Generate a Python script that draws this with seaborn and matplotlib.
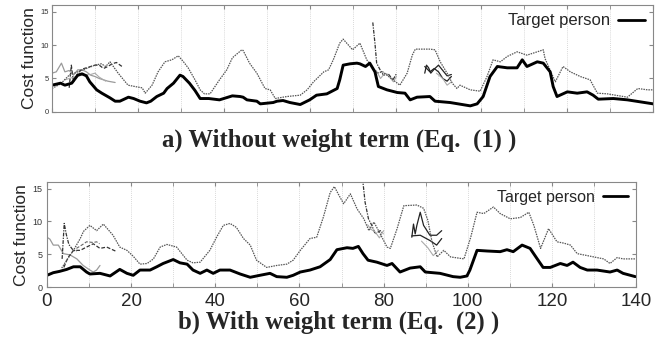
import matplotlib
matplotlib.use("Agg")
import matplotlib.pyplot as plt
import seaborn as sns
import pandas as pd

# ---------------- data: panel a (without weight term) ----------------
a_target_t = [0, 2, 3, 4.6, 6, 7, 8, 8.8, 10.4, 11.6, 13.5, 14.7, 15.8, 17.8, 19, 20.5, 22, 23, 24.4, 26, 26.8,
              28.3, 29.8, 30.5, 32, 33.3, 34.5, 36.5, 39, 42, 43.8, 44.5, 45.4, 47.7, 48.5, 51.5, 52.4, 53.8, 55.4,
              57.8, 60, 61.6, 64, 65.5, 66.4, 67, 67.8, 69.4, 71, 71.7, 73, 74, 75.2, 76, 78, 80.4, 82.2, 83.4, 85,
              88, 89.2, 92.7, 97.4, 99, 100.4, 102, 103.7, 106, 108.3, 109.5, 110.6, 113, 114.4, 116, 116.7, 117.6,
              120, 122.3, 124.6, 126, 127.2, 130.7, 134, 137, 140]
a_target_v = [4.0, 4.3, 4.0, 4.3, 5.5, 5.7, 5.4, 4.5, 3.3, 2.8, 2.1, 1.6, 1.6, 2.2, 2.0, 1.6, 1.35, 1.6, 2.3, 2.8, 3.5,
              4.3, 5.5, 5.3, 4.3, 3.2, 2.0, 2.0, 1.8, 2.4, 2.3, 2.2, 1.8, 1.6, 1.2, 1.4, 1.6, 1.7, 1.4,
              1.1, 1.8, 2.5, 2.7, 3.2, 3.5, 4.8, 7.0, 7.2, 7.3, 7.2, 6.8, 7.3, 6.0, 3.8, 3.3, 2.9, 2.8, 1.8, 2.2,
              2.3, 1.6, 1.4, 0.9, 1.2, 2.3, 5.3, 6.8, 6.6, 6.6, 7.8, 6.8, 7.5, 7.3, 6.0, 3.8, 2.3,
              3.0, 2.8, 3.0, 2.5, 1.9, 2.0, 1.8, 1.5, 1.2]

a_other_t = [0, 2, 4, 6, 8, 10, 11.5, 12.5, 13.5, 15.4, 17.7, 19.3, 21, 21.7, 23.3, 24.7, 26.3, 27.9, 29.4, 30.5,
             31.7, 33.3, 34.5, 35.5, 36.8, 39, 40.7, 42, 44.2, 44.5, 46, 47.7, 49.6, 50.8, 52, 54.7, 57.8, 59.4,
             60.9, 63.3, 64.4, 65.5, 67, 67.8, 70, 71.7, 73.3, 75.6, 77, 79.4, 81, 82.7, 83.9, 84.6, 88, 89.2,
             90.4, 92, 93.2, 94.3, 95, 97.4, 99.7, 101.3, 102.7, 104.4, 106, 108.3, 110.6, 113, 114.4, 114.8,
             117.2, 119, 120.7, 123, 125.3, 127, 129.3, 134, 136.4, 138.7, 140]
a_other_v = [3.5, 4.2, 5.5, 6.0, 6.5, 7.0, 7.2, 6.8, 7.5, 5.8, 4.0, 3.8, 3.6, 2.8, 4.0, 6.0, 7.5, 7.8, 8.4, 7.6,
             6.6, 4.8, 3.3, 2.7, 2.7, 4.8, 6.3, 8.1, 9.3, 9.2, 7.3, 5.8, 3.5, 3.3, 2.0, 2.3, 2.5, 3.3,
             4.5, 6.0, 6.3, 7.8, 10.3, 10.9, 9.3, 10.3, 7.8, 5.8, 6.0, 4.8, 4.0, 5.8, 8.5, 9.4, 9.4, 9.3,
             7.5, 5.8, 4.3, 3.5, 4.0, 3.3, 3.1, 5.3, 7.8, 7.5, 8.3, 9.0, 8.5, 9.0, 9.3, 8.0,
             4.5, 6.8, 6.0, 5.3, 4.8, 2.8, 2.7, 2.2, 3.5, 3.3, 3.3]

a_s1_t = [0, 1, 2.2, 3, 4, 5, 6, 7, 8, 9, 10, 11, 12, 13, 14.7]
a_s1_v = [5.8, 6.0, 7.3, 6.0, 6.2, 5.5, 6.3, 6.3, 6.0, 5.5, 5.3, 5.0, 4.8, 4.6, 4.4]
a_s2_t = [4, 4.5, 5, 6, 7, 8, 9, 10, 11, 12, 13, 14, 15, 16.3]
a_s2_v = [3.6, 7.0, 4.5, 5.8, 6.4, 6.6, 6.8, 7.0, 7.0, 6.5, 6.8, 7.2, 7.4, 6.8]
a_s3_t = [3, 5, 7, 9, 10, 11, 12.5]
a_s3_v = [4.8, 5.2, 5.5, 5.6, 5.8, 5.2, 4.6]
a_s4_t = [74.7, 75.2, 75.6, 76.4, 77.2, 78.3, 79.4, 80.2]
a_s4_v = [13.4, 10.3, 7.3, 6.3, 5.5, 5.7, 4.8, 5.7]
a_s5_t = [75.5, 76.5, 77.5, 78.5, 79.5, 80.2]
a_s5_v = [6.2, 5.0, 5.8, 5.3, 4.5, 5.3]
a_s6_t = [86.8, 87.2, 87.7, 88.2, 89, 90, 91, 92, 93]
a_s6_v = [5.8, 7.0, 6.6, 5.8, 6.4, 7.0, 6.2, 5.4, 5.6]
a_s7_t = [86.8, 88, 89, 90, 91, 92, 93]
a_s7_v = [6.8, 6.0, 6.5, 6.0, 5.0, 4.6, 5.3]
a_s8_t = [89.5, 91, 92, 93]
a_s8_v = [5.8, 5.0, 4.0, 4.5]

# ---------------- data: panel b (with weight term) ----------------
b_target_t = [0, 1.5, 3, 4.7, 6.3, 7.9, 9.4, 10.2, 12.6, 15, 17.3, 19, 20.5, 22.1, 24.5, 26.1, 27.6, 30, 31.6, 33.3,
              34.7, 36.4, 38, 39.5, 41.1, 43.5, 45.9, 48.3, 50.6, 53, 54.6, 57, 58.5, 60.2, 62.5, 64.9, 67.3,
              68.9, 71.3, 72.7, 74, 75.1, 76.3, 78.4, 80.8, 82, 83.9, 86.3, 88.7, 89.9, 93.4, 96.5, 98.2, 99.8,
              100.5, 102.2, 104.6, 107.7, 109.3, 110.8, 112.9, 114.8, 116.5, 117.9, 119.6, 122, 123.6, 125,
              126.7, 128.4, 130.7, 133.8, 135.5, 136.9, 139.8]
b_target_v = [1.8, 2.2, 2.4, 2.7, 3.1, 3.1, 2.3, 2.0, 2.1, 1.7, 2.7, 2.1, 1.8, 2.6, 2.6, 3.1, 3.6, 4.2, 3.7, 3.5,
              2.6, 2.1, 2.6, 2.1, 2.6, 2.6, 2.0, 1.5, 1.8, 2.1, 1.6, 1.5, 1.8, 2.3, 2.6, 3.1, 4.2,
              5.7, 6.0, 5.9, 6.2, 5.1, 4.1, 3.8, 3.3, 3.6, 2.3, 2.9, 3.1, 2.3, 2.1, 1.6, 1.5, 1.7,
              2.6, 5.6, 5.5, 5.4, 5.7, 5.4, 6.4, 5.9, 4.3, 3.0, 3.0, 3.6, 3.3, 3.8,
              3.0, 2.6, 2.6, 2.3, 2.6, 2.1, 1.6]

b_other_t = [3.5, 4.7, 6.3, 7.9, 8.7, 10.2, 11.8, 13.4, 15.7, 17.3, 19, 20.5, 22.1, 23.8, 25.3, 26.9, 28.5, 30.8,
             33.3, 34.7, 36.4, 38.7, 40.3, 41.9, 43.5, 45, 46.7, 48.3, 49.8, 52.2, 54.6, 57, 58.5, 60.2, 62.5,
             64.1, 65.7, 67.3, 68.3, 69.2, 70.5, 72.1, 73.7, 75.3, 76.5, 77.7, 79.2, 80.8, 81.6, 83.2, 84.8,
             87.9, 89.5, 90.5, 91.5, 92.7, 94.3, 95.9, 99.1, 100.7, 102.2, 103.8, 106.1, 107.7, 110.1, 112.5,
             114.5, 115.7, 117.3, 119.2, 121.2, 122.8, 124.4, 126, 128.4, 130.7, 132.3, 133.8, 135.5, 136.9, 139.8]
b_other_v = [2.9, 4.1, 5.6, 7.4, 8.5, 9.4, 8.6, 9.6, 7.9, 6.1, 5.6, 4.7, 3.5, 3.6, 4.3, 6.1, 6.5, 6.1,
             4.1, 3.7, 3.8, 5.6, 7.6, 9.4, 9.7, 9.1, 7.4, 6.4, 4.1, 3.0, 3.3, 3.5, 4.1, 5.6, 7.4,
             7.6, 10.7, 14.4, 15.3, 14.2, 12.7, 14.2, 11.9, 10.4, 8.6, 9.9, 8.1, 6.1, 5.9, 8.9, 12.4,
             12.5, 12.0, 10.2, 6.9, 4.6, 5.6, 4.6, 4.3, 7.6, 11.4, 11.2, 12.2, 11.2, 10.4, 10.6,
             11.4, 9.4, 5.9, 8.9, 6.9, 6.7, 6.4, 5.1, 4.8, 4.5, 4.3, 3.6, 4.5, 4.3, 4.3]

b_s1_t = [0, 0.7, 1.5, 2.7, 3.9, 5.5, 7.1, 8.6, 10.2, 11, 11.8, 12.6]
b_s1_v = [7.6, 7.3, 6.4, 6.4, 5.1, 4.9, 4.3, 3.3, 2.6, 2.3, 2.6, 3.3]
b_s2_t = [3.6, 4.1, 4.6, 5.2, 6.0, 7.0]
b_s2_v = [4.3, 9.7, 8.0, 6.5, 5.8, 5.4]
b_s3_t = [4, 5, 6.3, 7.9, 9.4, 11, 12.6, 14.2, 16.6]
b_s3_v = [3.0, 4.5, 5.6, 5.6, 6.1, 6.6, 5.9, 6.1, 5.4]
b_s4_t = [7, 8.5, 9.4, 11, 11.8, 12.5]
b_s4_v = [5.9, 6.5, 6.9, 6.8, 6.9, 6.6]
b_s5_t = [75.0, 75.6, 76.4, 77.2, 78, 79.2, 80]
b_s5_v = [16.5, 12.9, 10.4, 9.4, 8.1, 8.6, 8.1]
b_s6_t = [76.2, 77, 78, 79, 80]
b_s6_v = [9.5, 8.8, 8.4, 7.5, 8.6]
b_s7_t = [86.7, 87.1, 87.5, 87.9, 88.7, 89.5, 91, 92.6, 93.8]
b_s7_v = [7.6, 9.6, 8.1, 9.4, 11.4, 9.4, 7.9, 7.9, 8.6]
b_s8_t = [86.7, 88.7, 91, 92.6, 93.8]
b_s8_v = [7.8, 7.9, 7.1, 6.4, 7.4]
b_s9_t = [89, 90.5, 91.8, 93]
b_s9_v = [7.0, 6.0, 4.8, 5.6]

x_ticks = [0, 20, 40, 60, 80, 100, 120, 140]
y_ticks = [0, 5, 10, 15]
legend_label = "Target person"
title_a = "a) Without weight term (Eq.  (1) )"
title_b = "b) With weight term (Eq.  (2) )"
y_label = "Cost function"

# ---------------- drawing ----------------
sns.set_style("white")
plt.rcParams["font.family"] = ["Liberation Sans", "DejaVu Sans"]

fig = plt.figure(figsize=(6.71, 3.39), dpi=100)
ax_a = fig.add_axes([0.0775, 0.670, 0.896, 0.315])
ax_b = fig.add_axes([0.070, 0.153, 0.878, 0.310])


def line(ax, t, v, **kw):
    df = pd.DataFrame({"t": t, "v": v})
    sns.lineplot(data=df, x="t", y="v", ax=ax, sort=False, estimator=None, **kw)


def draw(ax, target, other, shorts):
    (tt, tv), (ot, ov) = target, other
    for (st, sv, style) in shorts:
        line(ax, st, sv, **style)
    line(ax, ot, ov, color="#555555", linewidth=0.9, linestyle=(0, (1.2, 0.8)))
    line(ax, tt, tv, color="black", linewidth=2.1, label=legend_label)


gray_solid = dict(color="#9a9a9a", linewidth=0.9)
dashed = dict(color="#333333", linewidth=0.9, linestyle=(0, (3, 1.5)))
thin_gray = dict(color="#aaaaaa", linewidth=0.8)
dashdot = dict(color="#333333", linewidth=0.9, linestyle=(0, (3, 1, 1, 1)))
thin_black = dict(color="#222222", linewidth=0.9)

draw(ax_a, (a_target_t, a_target_v), (a_other_t, a_other_v), [
    (a_s1_t, a_s1_v, gray_solid), (a_s2_t, a_s2_v, dashed), (a_s3_t, a_s3_v, thin_gray),
    (a_s4_t, a_s4_v, dashdot), (a_s5_t, a_s5_v, thin_gray), (a_s6_t, a_s6_v, thin_black),
    (a_s7_t, a_s7_v, thin_black), (a_s8_t, a_s8_v, thin_gray)])
draw(ax_b, (b_target_t, b_target_v), (b_other_t, b_other_v), [
    (b_s1_t, b_s1_v, gray_solid), (b_s2_t, b_s2_v, dashdot), (b_s3_t, b_s3_v, dashed),
    (b_s4_t, b_s4_v, dict(color="#666666", linewidth=0.8, linestyle=(0, (3, 1.5)))),
    (b_s5_t, b_s5_v, dashdot), (b_s6_t, b_s6_v, thin_gray), (b_s7_t, b_s7_v, thin_black),
    (b_s8_t, b_s8_v, thin_black), (b_s9_t, b_s9_v, thin_gray)])

for ax, lab_size, leg_size in [(ax_a, 5.5, 12), (ax_b, 6.5, 11.5)]:
    ax.set_xlim(0, 140)
    ax.set_ylim(0, 16)
    ax.set_yticks(y_ticks)
    ax.set_xticks(range(0, 141, 10), minor=True)
    for x in range(10, 140, 10):
        ax.axvline(x, color="#cccccc", linewidth=0.6, linestyle=(0, (1, 1.5)), zorder=0)
    ax.tick_params(axis="y", which="both", direction="in", length=3, labelsize=lab_size,
                   right=True, left=True, color="#888888", labelcolor="#333333", pad=2)
    ax.tick_params(axis="x", which="both", direction="in", length=3, top=True, bottom=True, color="#888888")
    for sp in ax.spines.values():
        sp.set_color("#888888")
        sp.set_linewidth(0.8)
    ax.set_xlabel("")
    ax.set_ylabel(y_label, fontsize=12.5, labelpad=3)
    leg = ax.legend(loc="upper right", frameon=False, markerfirst=False, fontsize=leg_size,
                    handlelength=1.6, borderaxespad=0.1, handletextpad=0.5)
    for h in leg.get_lines():
        h.set_linewidth(2.0)

ax_a.set_xticks(x_ticks)
ax_a.set_xticklabels([])
ax_b.set_xticks(x_ticks)
ax_b.set_xticklabels([str(x) for x in x_ticks], fontsize=13.5)
ax_b.tick_params(axis="x", labelsize=13.5, pad=4.5)
ax_b.tick_params(axis="y", pad=3)

fig.text(0.505, 0.585, title_a, ha="center", va="center", fontsize=17.8, fontweight="bold",
         family=["Liberation Serif", "DejaVu Serif"])
fig.text(0.505, 0.050, title_b, ha="center", va="center", fontsize=17.8, fontweight="bold",
         family=["Liberation Serif", "DejaVu Serif"])

fig.savefig("out.png", dpi=100)
